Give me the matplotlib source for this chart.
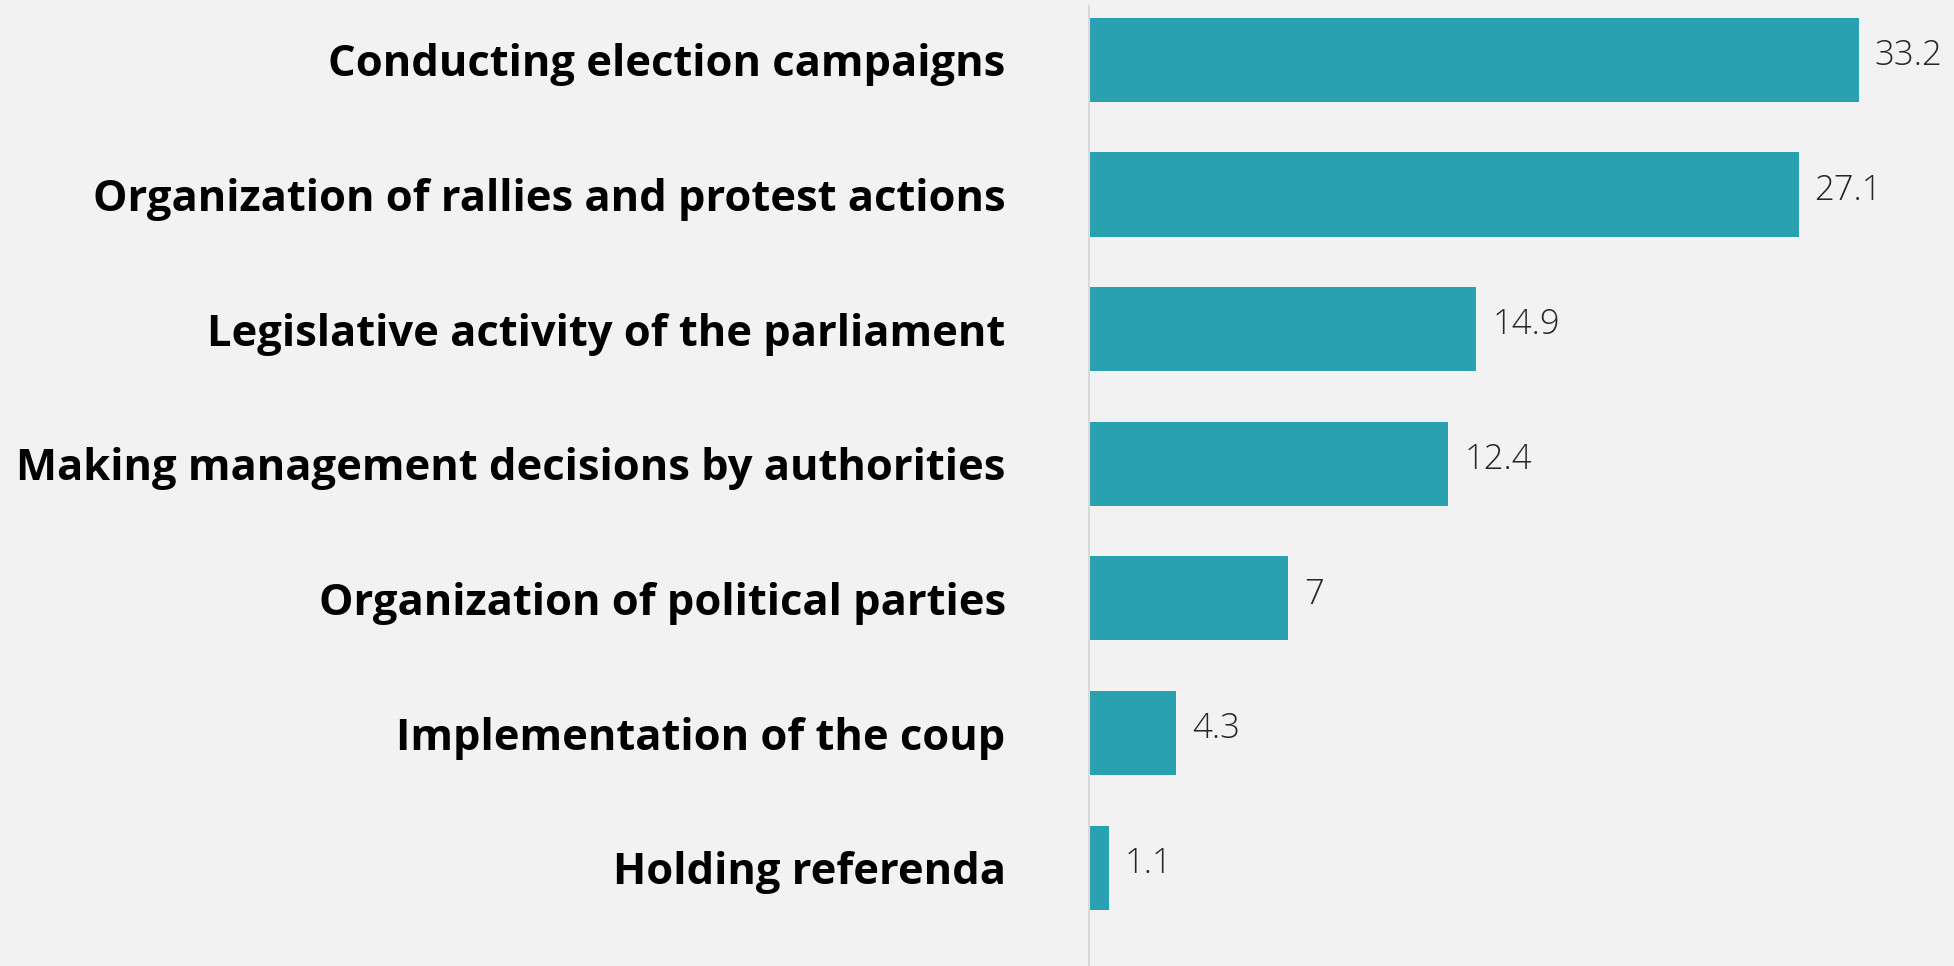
import matplotlib
matplotlib.use("Agg")
import matplotlib.pyplot as plt

categories = ["Conducting election campaigns",
              "Organization of rallies and protest actions",
              "Legislative activity of the parliament",
              "Making management decisions by authorities",
              "Organization of political parties",
              "Implementation of the coup",
              "Holding referenda"]
# printed values
value_labels = ["33.2", "27.1", "14.9", "12.4", "7", "4.3", "1.1"]
# bar lengths as drawn in the picture (not quite proportional to the printed values)
bar_lengths = [33.2, 30.6, 16.7, 15.5, 8.6, 3.75, 0.86]

bg = "#f2f2f2"
bar_color = "#2aa1b0"

fig = plt.figure(figsize=(19.54, 9.66), dpi=100, facecolor=bg)
ax = fig.add_axes([1089/1954, 0, 1 - 1089/1954, 960/966])
ax.set_facecolor(bg)

y = list(range(len(categories)))
ax.barh(y, bar_lengths, height=0.624, color=bar_color)

for i in y:
    ax.annotate(value_labels[i], (bar_lengths[i], i), xytext=(16, 4),
                textcoords="offset pixels", va="center", ha="left",
                fontsize=25, color="#262626", family="Open Sans",
                fontweight="light")

ax.set_xlim(0, 37.3)
ax.set_ylim(6.73, -0.40)
ax.set_yticks(y)
ax.set_yticklabels(categories, fontsize=31.3, fontweight="bold",
                   family="Open Sans", color="black")
ax.tick_params(axis="y", length=0, pad=60)
ax.set_xticks([])
for s in ["top", "right", "bottom"]:
    ax.spines[s].set_visible(False)
ax.spines["left"].set_color("#d9d9d9")
ax.spines["left"].set_linewidth(1.5)

fig.savefig("out.png", dpi=100, facecolor=bg)
